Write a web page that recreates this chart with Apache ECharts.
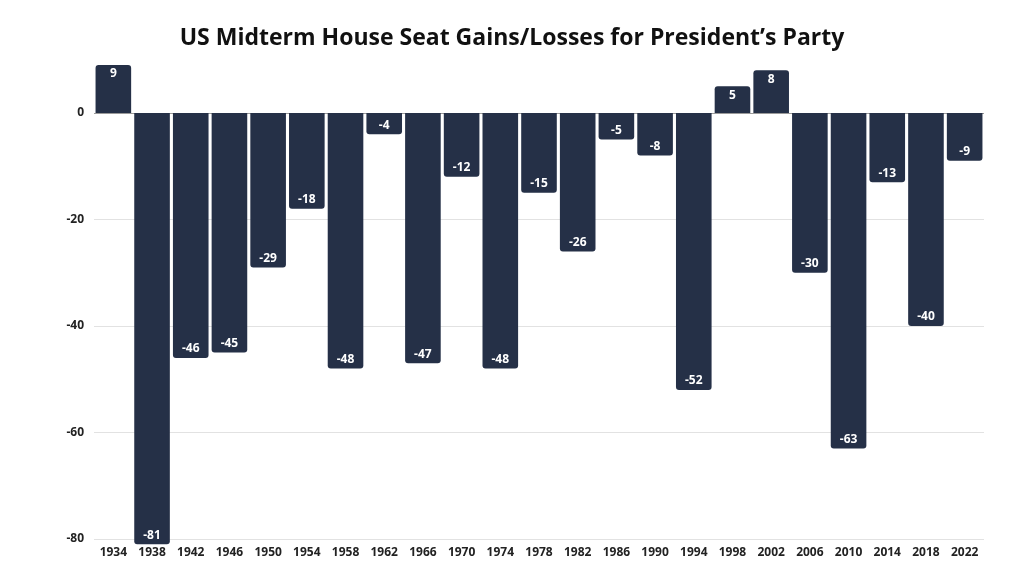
<!DOCTYPE html>
<html>
<head>
<meta charset="utf-8">
<script src="https://cdn.jsdelivr.net/npm/echarts@6/dist/echarts.min.js"></script>
<style>
  html, body { margin: 0; padding: 0; background: #fff; }
  #chart { width: 1024px; height: 582px; }
</style>
</head>
<body>
<div id="chart"></div>
<script>
var years = ['1934', '1938', '1942', '1946', '1950', '1954', '1958', '1962', '1966', '1970', '1974', '1978',
  '1982', '1986', '1990', '1994', '1998', '2002', '2006', '2010', '2014', '2018', '2022'];
var seatChange = [9, -81, -46, -45, -29, -18, -48, -4, -47, -12, -48, -15,
  -26, -5, -8, -52, 5, 8, -30, -63, -13, -40, -9];
var yTicks = [-80, -60, -40, -20, 0];

var barColor = '#253047';
var font = 'Open Sans';

// positive bars get label at top and rounded top, negatives at the bottom
var barData = seatChange.map(function (v) {
  return {
    value: v,
    itemStyle: { borderRadius: v >= 0 ? [3, 3, 0, 0] : [0, 0, 3, 3] },
    label: { position: v >= 0 ? 'insideTop' : 'insideBottom' }
  };
});

var myChart = echarts.init(document.getElementById('chart'));
myChart.setOption({
  animation: false,
  title: {
    text: 'US Midterm House Seat Gains/Losses for President\u2019s Party',
    left: 'center',
    top: 22,
    textStyle: { fontFamily: font, fontWeight: 'bold', fontSize: 23, color: '#111' }
  },
  grid: { left: 94, right: 40, top: 65, bottom: 43 },
  xAxis: {
    type: 'category',
    data: years,
    axisLine: { show: false },
    axisTick: { show: false },
    axisLabel: { fontFamily: font, fontWeight: 'bold', fontSize: 12, color: '#222', margin: 8, interval: 0 }
  },
  yAxis: {
    type: 'value',
    min: yTicks[0],
    max: 9,
    interval: 20,
    axisLine: { show: false },
    axisTick: { show: false },
    axisLabel: { fontFamily: font, fontWeight: 'bold', fontSize: 12, color: '#222', margin: 10, showMaxLabel: false },
    splitLine: {
      showMaxLine: false,
      lineStyle: { color: ['#e2e2e2', '#e2e2e2', '#e2e2e2', '#e2e2e2', '#9a9a9a'], width: 1 }
    }
  },
  series: [{
    type: 'bar',
    data: barData,
    clip: false,
    barCategoryGap: '8%',
    itemStyle: { color: barColor },
    label: {
      show: true,
      distance: 3,
      color: '#fff',
      fontFamily: font,
      fontWeight: 'bold',
      fontSize: 12
    }
  }]
});
</script>
</body>
</html>
